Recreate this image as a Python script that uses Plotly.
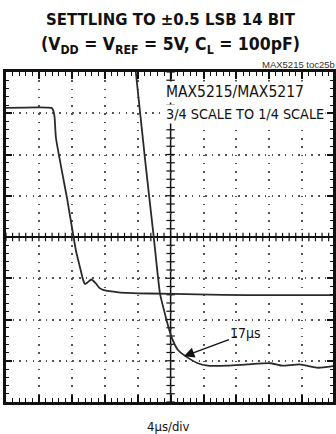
import numpy as np
import plotly.graph_objects as go

# Scope settings: 4 us/div horizontally, 10 divisions; 8 vertical divisions
US_PER_DIV = 4.0
X_MAX = 39.73          # screen shows a hair under 10 divisions
Y_MIN, Y_MAX = -4.0, 4.0

# Trace 1 (time in us, level in divisions)
t_a = [0.0, 5.53, 5.71, 5.89, 6.07, 7.45, 8.49, 8.97, 9.37, 9.61, 9.91,
       10.37, 10.89, 11.38, 11.89, 13.69, 17.30, 23.30, 29.31, 39.73]
v_a = [3.13, 3.13, 3.08, 2.93, 2.40, 0.90, -0.32, -0.72, -1.04, -1.14, -1.10,
       -1.03, -1.12, -1.24, -1.29, -1.34, -1.37, -1.39, -1.41, -1.41]

# Trace 2: 3/4 scale to 1/4 scale step
t_b = [15.77, 16.90, 17.90, 18.70, 19.10, 19.50, 20.10, 20.90, 21.90, 23.30,
       24.50, 26.91, 29.31, 32.11, 33.51, 35.68, 37.92, 39.73]
v_b = [4.00, 1.87, 0.09, -1.36, -1.70, -2.01, -2.42, -2.74, -2.90, -3.06,
       -3.12, -3.12, -3.09, -3.06, -3.12, -3.09, -3.17, -3.13]

settle_t, settle_v = 21.62, -2.89
settle_label = "17µs"

title_1 = "SETTLING TO ±0.5 LSB 14 BIT"
title_2 = "(V<sub>DD</sub> = V<sub>REF</sub> = 5V, C<sub>L</sub> = 100pF)"
part_label = "MAX5215/MAX5217"
step_label = "3/4 SCALE TO 1/4 SCALE"
toc_label = "MAX5215 toc25b"
x_label = "4µs/div"

NARROW = "Liberation Sans Narrow, Arial Narrow, DejaVu Sans Condensed, sans-serif"
INK = "#111111"
TRACE = "#2a2a2a"
DOT = "#555555"

W, H = 336, 434
ML, MR, MT, MB = 6, 0, 72, 32
pw, ph = W - ML - MR, H - MT - MB
px_per_div_x = pw / (X_MAX / US_PER_DIV)
px_per_div_y = ph / (Y_MAX - Y_MIN)

fig = go.Figure()

# center graticule with crossing ticks
x_mid = 5 * US_PER_DIV
minor_t = np.arange(0, X_MAX + 1e-9, US_PER_DIV / 5)
minor_v = np.arange(Y_MIN, Y_MAX + 1e-9, 0.2)
fig.add_shape(type="line", x0=x_mid, x1=x_mid, y0=Y_MIN, y1=Y_MAX,
              xref="x", yref="y", line=dict(color=INK, width=1.5), layer="below")
fig.add_trace(go.Scatter(x=minor_t.tolist(), y=[0.0] * len(minor_t), mode="markers",
                         marker=dict(symbol="line-ns", size=6, color=INK,
                                     line=dict(color=INK, width=1.2)),
                         hoverinfo="skip", showlegend=False))
fig.add_trace(go.Scatter(x=[x_mid] * len(minor_v), y=minor_v.tolist(), mode="markers",
                         marker=dict(symbol="line-ew", size=6, color=INK,
                                     line=dict(color=INK, width=1.2)),
                         hoverinfo="skip", showlegend=False))

fig.add_trace(go.Scatter(x=t_a, y=v_a, mode="lines",
                         line=dict(color=TRACE, width=1.8, shape="spline", smoothing=0.5),
                         showlegend=False))
fig.add_trace(go.Scatter(x=t_b, y=v_b, mode="lines",
                         line=dict(color=TRACE, width=1.8, shape="spline", smoothing=0.5),
                         showlegend=False))

dot_x = f"1.5px,{px_per_div_y / 5 - 1.5:.2f}px"
dot_y = f"1.5px,{px_per_div_x / 5 - 1.5:.2f}px"

fig.update_xaxes(range=[0, X_MAX], dtick=US_PER_DIV, tick0=0,
                 showgrid=True, gridcolor=DOT, gridwidth=1.5, griddash=dot_x,
                 zeroline=False, showticklabels=False,
                 showline=True, linecolor=INK, linewidth=2.5, mirror="allticks",
                 ticks="inside", ticklen=7, tickwidth=1.5, tickcolor=INK,
                 minor=dict(dtick=US_PER_DIV / 5, tick0=0, ticks="inside",
                            ticklen=4, tickwidth=1.2, tickcolor=INK, showgrid=False),
                 fixedrange=True)
fig.update_yaxes(range=[Y_MIN, Y_MAX], dtick=1, tick0=0,
                 showgrid=True, gridcolor=DOT, gridwidth=1.5, griddash=dot_y,
                 zeroline=True, zerolinecolor=INK, zerolinewidth=1.5,
                 showticklabels=False,
                 showline=True, linecolor=INK, linewidth=2.5, mirror="allticks",
                 ticks="inside", ticklen=6, tickwidth=1.5, tickcolor=INK,
                 minor=dict(dtick=0.2, tick0=0, ticks="inside",
                            ticklen=3, tickwidth=1.2, tickcolor=INK, showgrid=False),
                 fixedrange=True)

def py(y_px):
    return (H - MB - y_px) / ph

def px(x_px):
    return (x_px - ML) / pw

annos = [
    dict(text="<b>" + title_1 + "</b>", x=px(172.5), y=py(19.5), xanchor="center",
         yanchor="middle", font=dict(family=NARROW, size=16.6, color=INK)),
    dict(text="<b>" + title_2 + "</b>", x=px(172.5), y=py(45), xanchor="center",
         yanchor="middle", font=dict(family=NARROW, size=17.5, color=INK)),
    dict(text=toc_label, x=1.0, y=py(65), xanchor="right", yanchor="middle", xshift=4,
         font=dict(family="Liberation Sans, Arial, sans-serif", size=9.5, color="#333333")),
    dict(text=part_label, x=px(165), y=py(92), xanchor="left", yanchor="middle",
         bgcolor="white", borderpad=1,
         font=dict(family=NARROW, size=15.5, color=INK)),
    dict(text=step_label, x=px(165), y=py(113.5), xanchor="left", yanchor="middle",
         bgcolor="white", borderpad=1,
         font=dict(family=NARROW, size=14.3, color=INK)),
    dict(text=x_label, x=px(170), y=py(426), xanchor="center", yanchor="middle",
         font=dict(family=NARROW, size=13, color=INK)),
]
for a in annos:
    fig.add_annotation(xref="paper", yref="paper", showarrow=False, **a)

fig.add_annotation(x=settle_t, y=settle_v, xref="x", yref="y", text=settle_label,
                   showarrow=True, ax=62, ay=-23, arrowhead=2, arrowsize=1.6,
                   arrowwidth=1.3, arrowcolor=INK, standoff=0,
                   font=dict(family=NARROW, size=14, color=INK))

fig.update_layout(width=W, height=H, margin=dict(l=ML, r=MR, t=MT, b=MB),
                  paper_bgcolor="white", plot_bgcolor="white", showlegend=False)

fig.write_html("out.html")
